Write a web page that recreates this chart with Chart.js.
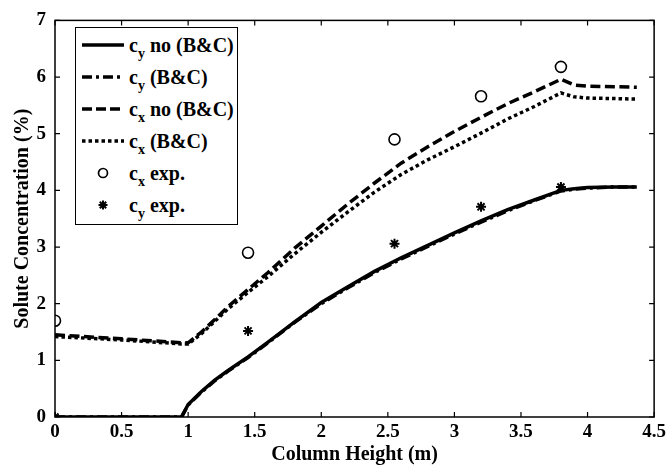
<!DOCTYPE html>
<html>
<head>
<meta charset="utf-8">
<script src="https://cdn.jsdelivr.net/npm/chart.js@4"></script>
<style>
  html, body { margin: 0; padding: 0; background: #fff; }
  #wrap { position: relative; width: 670px; height: 467px; }
  #legend {
    position: absolute; left: 75px; top: 27px; width: 161px; height: 196px;
    border: 1.5px solid #000; background: #fff;
    font-family: "Liberation Serif", "Times New Roman", serif; font-weight: bold; font-size: 20px;
  }
  .row { position: absolute; left: 6px; height: 30px; display: flex; align-items: center; white-space: nowrap; }
  .row svg { width: 42px; height: 14px; margin-right: 5px; flex: none; }
  .row sub { font-size: 14px; vertical-align: -6px; line-height: 0; }
</style>
</head>
<body>
<div id="wrap">
  <canvas id="chart" width="670" height="467"></canvas>
  <div id="legend"></div>
</div>
<script>
// model curves, sampled along the column height
const heights = [0, 0.5, 0.95, 1.0, 1.1, 1.2, 1.3, 1.45, 1.6, 1.8, 2.0, 2.2, 2.4, 2.6, 2.8, 3.0, 3.2, 3.4, 3.6, 3.8, 3.9, 4.0, 4.2, 4.37];
const cyNoBC = [0, 0, 0, 0.22, 0.45, 0.65, 0.82, 1.06, 1.32, 1.68, 2.02, 2.30, 2.57, 2.81, 3.03, 3.25, 3.46, 3.66, 3.83, 4.00, 4.03, 4.05, 4.06, 4.06];
const cyBC = [0, 0, 0, 0.21, 0.44, 0.64, 0.81, 1.05, 1.31, 1.67, 2.00, 2.28, 2.55, 2.79, 3.01, 3.23, 3.44, 3.64, 3.82, 3.99, 4.02, 4.04, 4.06, 4.06];
const cxNoBC = [1.45, 1.38, 1.31, 1.31, 1.50, 1.72, 1.95, 2.25, 2.55, 2.98, 3.37, 3.76, 4.13, 4.48, 4.77, 5.04, 5.29, 5.53, 5.74, 5.96, 5.86, 5.84, 5.83, 5.82];
const cxBC = [1.42, 1.36, 1.29, 1.29, 1.47, 1.69, 1.91, 2.20, 2.48, 2.88, 3.26, 3.62, 3.97, 4.28, 4.54, 4.77, 5.01, 5.26, 5.48, 5.72, 5.65, 5.63, 5.62, 5.61];

// experimental points
const expHeights = [0, 1.45, 2.55, 3.2, 3.8];
const cxExp = [1.7, 2.9, 4.9, 5.66, 6.18];
const cyExp = [0, 1.52, 3.06, 3.71, 4.06];

const serif = '"Liberation Serif", "Times New Roman", serif';

function pairs(xs, ys) {
  return xs.map((x, i) => ({ x, y: ys[i] }));
}

const legendItems = [
  { sub: "y", text: " no (B&C)", kind: "line", dash: "" },
  { sub: "y", text: " (B&C)", kind: "line", dash: "10 4 3 4" },
  { sub: "x", text: " no (B&C)", kind: "line", dash: "10 4" },
  { sub: "x", text: " (B&C)", kind: "line", dash: "3.5 3" },
  { sub: "x", text: " exp.", kind: "circle" },
  { sub: "y", text: " exp.", kind: "star" },
];

const legend = document.getElementById("legend");
legendItems.forEach((item, i) => {
  const row = document.createElement("div");
  row.className = "row";
  row.style.top = (2 + i * 32) + "px";
  let svg;
  if (item.kind === "line") {
    svg = `<svg viewBox="0 0 42 14"><line x1="0" y1="7" x2="42" y2="7" stroke="#000" stroke-width="3.5" stroke-dasharray="${item.dash}"/></svg>`;
  } else if (item.kind === "circle") {
    svg = `<svg viewBox="0 0 42 14"><circle cx="21" cy="7" r="4.5" fill="none" stroke="#000" stroke-width="1.7"/></svg>`;
  } else {
    svg = `<svg viewBox="0 0 42 14"><g stroke="#000" stroke-width="2"><line x1="21" y1="2.5" x2="21" y2="11.5"/><line x1="16.5" y1="7" x2="25.5" y2="7"/><line x1="17.8" y1="3.8" x2="24.2" y2="10.2"/><line x1="17.8" y1="10.2" x2="24.2" y2="3.8"/></g></svg>`;
  }
  row.innerHTML = `${svg}<span>c<sub>${item.sub}</sub>${item.text.replace("&", "&amp;")}</span>`;
  legend.appendChild(row);
});

// box round the plot with inward ticks on all four sides
const frame = {
  id: "frame",
  afterDraw(chart) {
    const { ctx, chartArea: a, scales } = chart;
    ctx.save();
    ctx.strokeStyle = "#000";
    ctx.lineWidth = 1.5;
    ctx.strokeRect(a.left, a.top, a.right - a.left, a.bottom - a.top);
    ctx.lineWidth = 1.2;
    ctx.beginPath();
    scales.x.ticks.forEach((t) => {
      const px = scales.x.getPixelForValue(t.value);
      ctx.moveTo(px, a.bottom); ctx.lineTo(px, a.bottom - 5);
      ctx.moveTo(px, a.top); ctx.lineTo(px, a.top + 5);
    });
    scales.y.ticks.forEach((t) => {
      const py = scales.y.getPixelForValue(t.value);
      ctx.moveTo(a.left, py); ctx.lineTo(a.left + 5, py);
      ctx.moveTo(a.right, py); ctx.lineTo(a.right - 5, py);
    });
    ctx.stroke();
    ctx.restore();
  },
};

const lineBase = { showLine: true, pointRadius: 0, borderColor: "#000", borderWidth: 3.5, fill: false, tension: 0 };

new Chart(document.getElementById("chart"), {
  type: "scatter",
  data: {
    datasets: [
      { ...lineBase, label: "cx (B&C)", data: pairs(heights, cxBC), borderDash: [3.5, 3] },
      { ...lineBase, label: "cx no (B&C)", data: pairs(heights, cxNoBC), borderDash: [10, 4.5] },
      { ...lineBase, label: "cy (B&C)", data: pairs(heights, cyBC), borderDash: [10, 4, 3, 4] },
      { ...lineBase, label: "cy no (B&C)", data: pairs(heights, cyNoBC) },
      {
        label: "cx exp.", data: pairs(expHeights, cxExp), showLine: false,
        pointStyle: "circle", pointRadius: 5.5, borderColor: "#000", borderWidth: 1.6, backgroundColor: "rgba(0,0,0,0)",
      },
      {
        label: "cy exp.", data: pairs(expHeights, cyExp), showLine: false,
        pointStyle: "star", pointRadius: 5, borderColor: "#000", borderWidth: 2,
      },
    ],
  },
  options: {
    responsive: false,
    animation: false,
    layout: { padding: { top: 15, right: 13, left: 0, bottom: 0 } },
    plugins: { legend: { display: false }, tooltip: { enabled: false } },
    scales: {
      x: {
        type: "linear", min: 0, max: 4.5,
        ticks: {
          stepSize: 0.5, color: "#000", padding: 4, maxRotation: 0,
          font: { family: serif, weight: "bold", size: 19 },
          callback: (v) => String(Number(v.toFixed(1))),
        },
        grid: { display: false, drawTicks: false },
        border: { display: false },
        title: { display: true, text: "Column Height (m)", color: "#000", padding: { top: 0, bottom: 0 }, font: { family: serif, weight: "bold", size: 20 } },
        afterFit: (scale) => { scale.height = 50; },
      },
      y: {
        min: 0, max: 7,
        ticks: { stepSize: 1, color: "#000", padding: 9, font: { family: serif, weight: "bold", size: 19 } },
        grid: { display: false, drawTicks: false },
        border: { display: false },
        title: { display: true, text: "Solute Concentration (%)", color: "#000", padding: { top: 11, bottom: 0 }, font: { family: serif, weight: "bold", size: 20 } },
        afterFit: (scale) => { scale.width = 55; },
      },
    },
  },
  plugins: [frame],
});
</script>
</body>
</html>
